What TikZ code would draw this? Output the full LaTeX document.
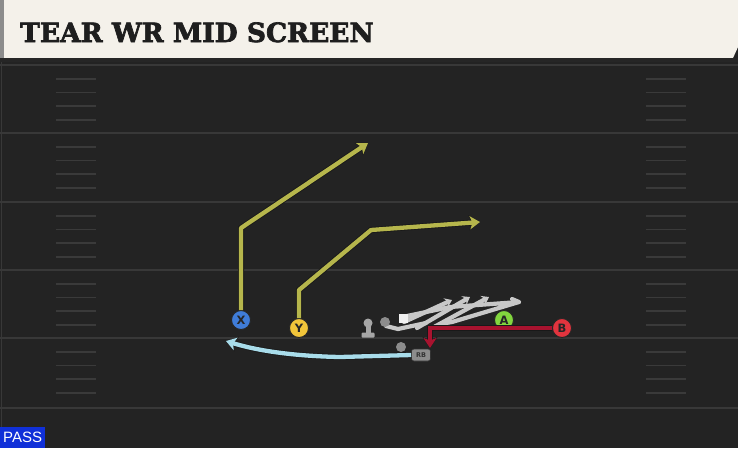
\documentclass[tikz,border=0pt]{standalone}
\usepackage{fontspec}
\setmainfont{DejaVu Sans}
\newfontfamily\titlefont[BoldFeatures={FakeBold=2.6}]{DejaVu Serif}
\newfontfamily\passfont{Liberation Sans}
\usetikzlibrary{arrows.meta}
\definecolor{fieldbg}{HTML}{232323}
\definecolor{cream}{HTML}{F4F1EA}
\definecolor{titletext}{HTML}{1E1E1E}
\definecolor{fieldline}{HTML}{383838}
\definecolor{hashc}{HTML}{3A3A3A}
\definecolor{olive}{HTML}{B6B64C}
\definecolor{redroute}{HTML}{A8132F}
\definecolor{blueroute}{HTML}{A8DCEA}
\definecolor{xblue}{HTML}{3F7CD8}
\definecolor{yyellow}{HTML}{F2C53A}
\definecolor{agreen}{HTML}{82D63E}
\definecolor{bred}{HTML}{E2343E}
\definecolor{scribc}{HTML}{C8C8C8}
\definecolor{passblue}{HTML}{1030D8}
\tikzset{
  player/.style={circle, draw=black!85, line width=0.9pt, minimum size=19pt, inner sep=0pt,
    font=\bfseries\fontsize{11.5}{11.5}\selectfont, text=black!85},
  route/.style={line width=4.3pt, line join=round, -{Stealth[length=10pt,width=13pt,inset=2.5pt]},
    preaction={draw=black!90, line width=6pt, -{Stealth[length=11pt,width=15pt,inset=3pt]}}},
  scrib/.style={draw=scribc, line width=4.2pt, line cap=round, line join=round},
  scribtip/.style={scrib, -{Stealth[length=7pt,width=10pt,inset=2.5pt]}},
  fline/.style={draw=fieldline, line width=2pt},
  hashline/.style={draw=hashc, line width=1.6pt},
}
\begin{document}
\begin{tikzpicture}[x=1pt,y=-1pt]
\useasboundingbox (0,0) rectangle (738,448);
\fill[fieldbg] (0,0) rectangle (738,448);
% title band
\fill[cream] (0,0) -- (738,0) -- (738,47) -- (733,58) -- (0,58) -- cycle;
\fill[black!45] (0,0) rectangle (4,58);
\fill[black!85] (0,58) rectangle (738,62);
\draw[fieldline, line width=1pt] (1.5,62) -- (1.5,448);
% field lines
\foreach \y in {65,133,202,270,338,408} \draw[fline] (0,\y) -- (738,\y);
\foreach \y in {65,133,202,270,338} {
  \foreach \d in {14,27.5,41,55} {
    \draw[hashline] (56,\y+\d) -- (96,\y+\d);
    \draw[hashline] (646,\y+\d) -- (686,\y+\d);
  }
}
\node[anchor=base west, font=\titlefont\bfseries\fontsize{26.5}{26.5}\selectfont, text=titletext, inner sep=0pt] (title) at (20,42) {TEAR WR MID SCREEN};

% linemen / scribble
\draw[scrib] (386,326) -- (398,329) -- (426,323);
\draw[scribtip] (404,322) -- (452,300);
\draw[scribtip] (417,328) -- (470,297);
\draw[scribtip] (434,327) -- (489,297);
\draw[scrib] (407,316) -- (450,307) -- (519,302) -- (452,322) -- (440,324);
\draw[scrib] (519,302) -- (512,299);

% players
\node[player, fill=xblue] (X) at (241,320) {X};
\node[player, fill=yyellow] (Y) at (299,328) {Y};
\node[player, fill=agreen] (A) at (504,320) {A};
\node[player, fill=bred] (B) at (562,328) {B};
\node[fill=white!94!black, minimum size=9pt, inner sep=0pt] (C) at (403,318) {};
\node[circle, fill=black!45, minimum size=10pt, inner sep=0pt] (G1) at (385,322) {};
\node[circle, fill=black!45, minimum size=10pt, inner sep=0pt] (QB) at (401,347) {};
\node[circle, fill=black!35, minimum size=9pt, inner sep=0pt] (Thead) at (368,323) {};
\fill[black!35] (365.5,325) rectangle (370.5,333);
\node[fill=black!35, minimum width=13pt, minimum height=5pt, inner sep=0pt, rounded corners=1pt] (Tbase) at (368,335) {};
\node[draw=black!80, fill=black!45, line width=0.6pt, minimum width=19pt, minimum height=12pt, inner sep=0pt,
  rounded corners=2.5pt, font=\bfseries\fontsize{6.5}{6.5}\selectfont, text=black!80] (RB) at (421,355) {RB};

% routes
\coordinate (x1) at (241,228);
\coordinate (xe) at (368,143);
\coordinate (y1) at (299,290);
\coordinate (y2) at (371,230);
\coordinate (ye) at (480,222);
\coordinate (b1) at (430,328);
\coordinate (be) at (430,348);
\coordinate (r1) at (340,357);
\coordinate (re) at (226,341);
\draw[route, olive] (X.north) -- (x1) -- (xe);
\draw[route, olive] (Y.north) -- (y1) -- (y2) -- (ye);
\draw[route, redroute, line join=miter] (B.west) -- (b1) -- (be);
\draw[route, blueroute] (RB.west) -- (r1) .. controls (290,356) and (255,350) .. (re);

\node[fill=passblue, text=white, font=\passfont\fontsize{15}{15}\selectfont, anchor=south west,
  minimum width=45pt, minimum height=21pt, inner sep=0pt] (pass) at (0,448) {PASS};
\end{tikzpicture}
\end{document}
